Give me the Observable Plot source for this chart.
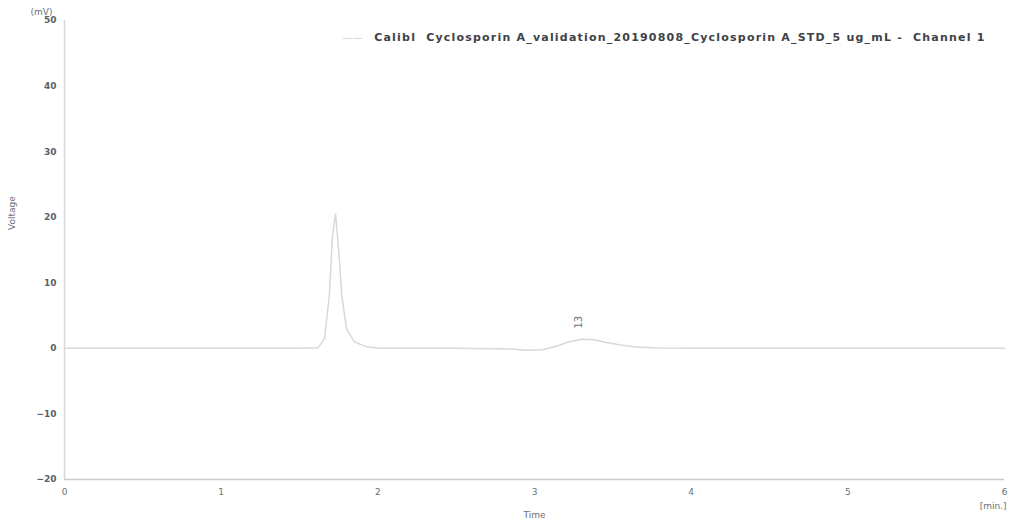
<!DOCTYPE html>
<html>
<head>
<meta charset="utf-8">
<script src="https://cdn.jsdelivr.net/npm/d3@7"></script>
<script src="https://cdn.jsdelivr.net/npm/@observablehq/plot@0.6"></script>
<style>
  html, body { margin: 0; padding: 0; background: #ffffff; }
  #chart { width: 1011px; height: 524px; overflow: hidden; }
  .ttl text { letter-spacing: 1.2px; }
</style>
</head>
<body>
<div id="chart"></div>
<script>
// Signal trace (minutes, mV)
const times = [0, 0.5, 1.0, 1.5, 1.62, 1.66, 1.69, 1.71, 1.73, 1.75, 1.77, 1.80, 1.85, 1.92, 2.0, 2.5, 2.85, 2.95, 3.05, 3.15, 3.22, 3.30, 3.38, 3.46, 3.55, 3.65, 3.8, 4.0, 5.0, 6.0];
const volts = [0, 0, 0, 0, 0.1, 1.5, 8, 17, 20.5, 15, 8, 3, 1, 0.3, 0, 0, -0.1, -0.3, -0.2, 0.4, 1.0, 1.4, 1.3, 0.9, 0.5, 0.2, 0.05, 0, 0, 0];

const xTicks = [0, 1, 2, 3, 4, 5, 6];
const yTicks = [-20, -10, 0, 10, 20, 30, 40, 50];
const peakTimes = [3.28];
const peakLabels = ["13"];
const titleText = "Calibl  Cyclosporin A_validation_20190808_Cyclosporin A_STD_5 ug_mL -  Channel 1";

const trace = times.map((t, i) => ({t, v: volts[i]}));
const peaks = peakTimes.map((t, i) => ({t, label: peakLabels[i]}));

const chart = Plot.plot({
  width: 1011,
  height: 524,
  marginLeft: 64,
  marginRight: 7,
  marginTop: 20,
  marginBottom: 45,
  style: {background: "#ffffff", fontFamily: "DejaVu Sans, Verdana, sans-serif", color: "#4a5058"},
  x: {domain: [0, 6]},
  y: {domain: [-20, 50]},
  marks: [
    Plot.ruleX([0], {stroke: "#d4d8da", strokeWidth: 1.5}),
    Plot.ruleY([-20], {stroke: "#c8cccc", strokeWidth: 1.5}),
    Plot.axisY({ticks: yTicks, tickFormat: "d", tickSize: 0, tickPadding: 8, label: null, fontSize: 9, fontWeight: "bold", fill: "#5a6068"}),
    Plot.axisX({ticks: xTicks, tickFormat: "d", tickSize: 0, tickPadding: 9, label: null, fontSize: 9, fill: "#6a7078"}),
    Plot.line(trace, {x: "t", y: "v", stroke: "#d6d9db", strokeWidth: 1.5}),
    Plot.text(peaks, {x: "t", y: 4, text: "label", rotate: -90, fontSize: 10, fill: "#6a7078"}),
    Plot.text(["——"], {frameAnchor: "top-left", dx: 278, dy: 13, textAnchor: "start", fontSize: 10, fill: "#d0d3d5"}),
    Plot.text([titleText], {className: "ttl", frameAnchor: "top-right", dx: -19, dy: 13, textAnchor: "end", fontSize: 11, fontWeight: "bold", fill: "#3e4248"}),
    Plot.text(["(mV)"], {frameAnchor: "top-left", dx: -12, dy: -12, textAnchor: "end", fontSize: 9, fill: "#6a7078"}),
    Plot.text(["Voltage"], {frameAnchor: "left", dx: -52, dy: -20, rotate: -90, fontSize: 9, fill: "#6a7078"}),
    Plot.text(["Time"], {frameAnchor: "bottom", dy: 38, fontSize: 9, fill: "#6a7078"}),
    Plot.text(["[min.]"], {frameAnchor: "bottom-right", dx: 2, dy: 29, textAnchor: "end", fontSize: 9, fill: "#6a7078"})
  ]
});
document.getElementById("chart").appendChild(chart);
</script>
</body>
</html>
